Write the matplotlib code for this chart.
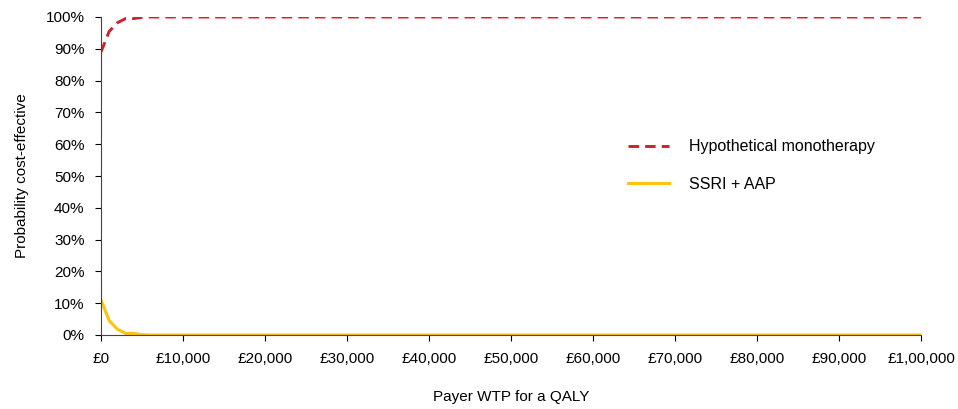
import matplotlib
matplotlib.use("Agg")
import matplotlib.pyplot as plt
from matplotlib.ticker import FuncFormatter

plt.rcParams['font.family'] = ['Liberation Sans', 'DejaVu Sans']

# willingness-to-pay grid (GBP per QALY)
wtp = [0, 1000, 2000, 3000, 4000, 5000, 6000, 10000, 20000, 30000, 40000,
       50000, 60000, 70000, 80000, 90000, 100000]
ssri_aap = [0.11, 0.045, 0.018, 0.005, 0.005, 0.001, 0.0, 0.0, 0.0, 0.0, 0.0,
            0.0, 0.0, 0.0, 0.0, 0.0, 0.0]
mono = [1 - v for v in ssri_aap]

x_ticks = [0, 10000, 20000, 30000, 40000, 50000, 60000, 70000, 80000, 90000, 100000]
x_labels = ['£0', '£10,000', '£20,000', '£30,000', '£40,000', '£50,000',
            '£60,000', '£70,000', '£80,000', '£90,000', '£1,00,000']

fig = plt.figure(figsize=(9.58, 4.09), dpi=100)
ax = fig.add_axes([101/958, 1 - 335/409, 820/958, 318/409])

ax.plot(wtp, mono, color='#d0202e', lw=2.1, ls=(0, (3.6, 2.1)), label='Hypothetical monotherapy')
ax.plot(wtp, ssri_aap, color='#ffc20e', lw=2.2, label='SSRI + AAP')

ax.set_xlim(0, 100000)
ax.set_ylim(0, 1)
ax.set_xticks(x_ticks)
ax.set_xticklabels(x_labels)
ax.set_yticks([i / 10 for i in range(11)])
ax.yaxis.set_major_formatter(FuncFormatter(lambda v, p: f'{v*100:.0f}%'))
ax.tick_params(labelsize=11, colors='black', length=4.3, width=0.8)
ax.tick_params(axis='x', pad=8)
ax.tick_params(axis='y', pad=7.5)
for s in ['top', 'right']:
    ax.spines[s].set_visible(False)
ax.spines['left'].set_color('#444444')
ax.spines['bottom'].set_color('#444444')

ax.set_xlabel('Payer WTP for a QALY', fontsize=11, labelpad=17)
ax.set_ylabel('Probability cost-effective', fontsize=11, labelpad=12)

ax.legend(loc='upper left', bbox_to_anchor=(0.625, 0.66), frameon=False,
          fontsize=11.5, handlelength=2.6, labelspacing=1.4, handletextpad=1.25)

fig.savefig('out.png', dpi=100)
